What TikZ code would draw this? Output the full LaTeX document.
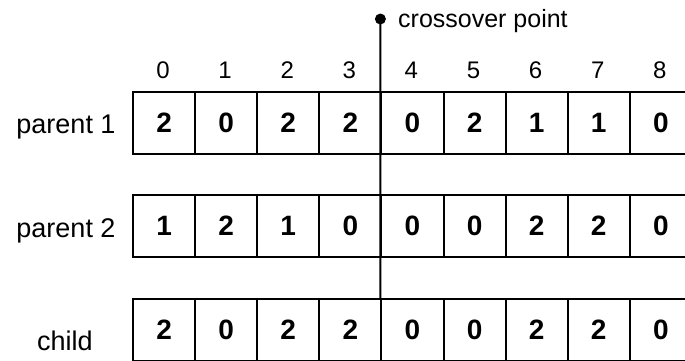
\documentclass[tikz,border=0pt]{standalone}
\usepackage{fontspec}
\setmainfont{Liberation Sans}
\begin{document}
\begin{tikzpicture}[x=1pt,y=-1pt,
  cell/.style={draw,line width=2pt,minimum width=62.1pt,minimum height=62pt,inner sep=0pt,
    font=\fontsize{28}{28}\selectfont\bfseries,anchor=north west},
  idx/.style={font=\fontsize{24}{24}\selectfont,anchor=base,inner sep=0pt},
  lbl/.style={font=\fontsize{27}{27}\selectfont,anchor=base,inner sep=0pt},
  conn/.style={line width=2pt},
  dotmark/.style={fill,circle,minimum size=11pt,inner sep=0pt}
]
\useasboundingbox (0,0) rectangle (685,360);
% column indices
\foreach \i in {0,...,8}
  \node[idx] (ix\i) at (163+62.1*\i,78) {\i};
% parent 1
\foreach \v [count=\j from 0] in {2,0,2,2,0,2,1,1,0}
  \node[cell] (pa\j) at (132+62.1*\j,91) {\v};
% parent 2
\foreach \v [count=\j from 0] in {1,2,1,0,0,0,2,2,0}
  \node[cell] (pb\j) at (132+62.1*\j,194) {\v};
% child
\foreach \v [count=\j from 0] in {2,0,2,2,0,0,2,2,0}
  \node[cell] (ch\j) at (132+62.1*\j,298) {\v};
% row labels
\node[lbl] (l1) at (66,133) {parent 1};
\node[lbl] (l2) at (66,237) {parent 2};
\node[lbl] (l3) at (65,350) {child};
% crossover point
\node[dotmark] (dot) at (380.4,19) {};
\node[font=\fontsize{25}{25}\selectfont,anchor=base west,inner sep=0pt] (cp) at (398,27) {crossover point};
\draw[conn] (dot.center) -- (ch4.north west);
\end{tikzpicture}
\end{document}
